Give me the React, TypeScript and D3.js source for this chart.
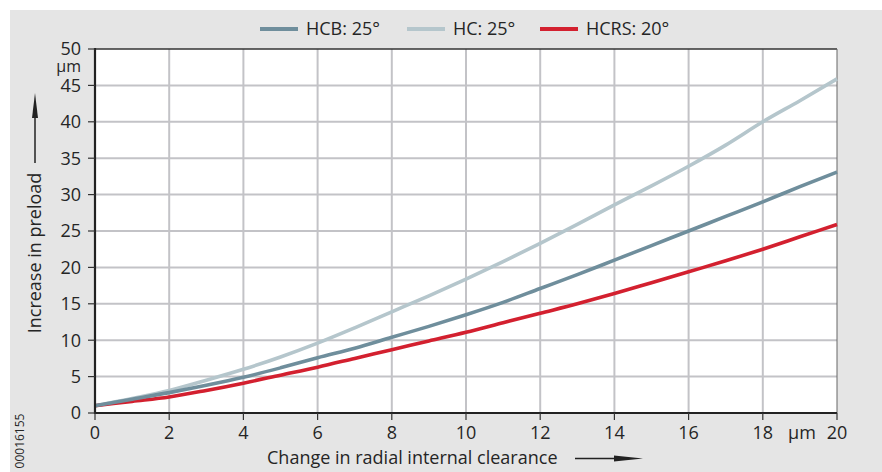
import React from "react";
import * as d3 from "d3";

// Radial internal clearance change (µm)
const clearance = [0, 1, 2, 3, 4, 5, 6, 7, 8, 9, 10, 11, 12, 13, 14, 15, 16, 17, 18, 19, 20];
// Preload increase (µm) per bearing type
const hcb25 = [1.0, 1.9, 2.8, 3.8, 4.9, 6.2, 7.6, 8.9, 10.4, 11.9, 13.5, 15.2, 17.1, 19.0, 21.0, 23.0, 25.0, 27.0, 29.0, 31.1, 33.1];
const hc25 = [1.0, 2.0, 3.1, 4.5, 6.0, 7.7, 9.6, 11.7, 13.9, 16.1, 18.4, 20.8, 23.3, 25.9, 28.6, 31.2, 33.9, 36.8, 40.0, 42.9, 45.9];
const hcrs20 = [1.0, 1.6, 2.2, 3.1, 4.1, 5.2, 6.3, 7.5, 8.7, 9.9, 11.1, 12.4, 13.7, 15.0, 16.4, 17.9, 19.4, 20.9, 22.5, 24.2, 25.9];

const seriesNames = ["HCB: 25°", "HC: 25°", "HCRS: 20°"];
const xTicks = [0, 2, 4, 6, 8, 10, 12, 14, 16, 18, 20];
const yTicks = [0, 5, 10, 15, 20, 25, 30, 35, 40, 45, 50];

const colors = ["#6f8e9c", "#b5c6cc", "#d3202f"];
const FONT = "'Open Sans', 'Noto Sans', sans-serif";
const TEXT = "#252525";

export default function App() {
  const W = 882;
  const H = 472;
  const left = 95, right = 837, top = 49, bottom = 413;
  const x = d3.scaleLinear().domain([0, 20]).range([left, right]);
  const y = d3.scaleLinear().domain([0, 50]).range([bottom, top]);

  const series = [hcb25, hc25, hcrs20];
  const line = d3
    .line<number>()
    .x((_, i) => x(clearance[i]))
    .y((d) => y(d))
    .curve(d3.curveMonotoneX);

  // draw order: HC underneath, then HCRS, then HCB on top
  const drawOrder = [1, 2, 0];

  const legendX = [260, 407, 540];

  return (
    <svg width={W} height={H} style={{ position: "absolute", left: 0, top: 0 }}>
      <rect x={10} y={10} width={W - 10} height={H - 10} fill="#e5e5e5" />
      <rect x={left} y={top} width={right - left} height={bottom - top} fill="#ffffff" />

      {/* grid */}
      {xTicks.slice(1, -1).map((t) => (
        <line key={"gx" + t} x1={x(t)} x2={x(t)} y1={top} y2={bottom} stroke="#c3c3c7" strokeWidth={2} />
      ))}
      {yTicks.slice(1, -1).map((t) => (
        <line key={"gy" + t} x1={left} x2={right} y1={y(t)} y2={y(t)} stroke="#c3c3c7" strokeWidth={2} />
      ))}

      {/* frame */}
      <line x1={left} x2={right} y1={top} y2={top} stroke="#333" strokeWidth={1.5} />
      <line x1={right} x2={right} y1={top} y2={bottom} stroke="#666" strokeWidth={1} />

      {/* curves */}
      {drawOrder.map((k) => (
        <path key={"s" + k} d={line(series[k]) || ""} fill="none" stroke={colors[k]} strokeWidth={3.6} strokeLinejoin="round" />
      ))}

      {/* axes */}
      <line x1={left} x2={right} y1={bottom} y2={bottom} stroke="#222" strokeWidth={2.2} />
      <line x1={left} x2={left} y1={top - 1} y2={bottom + 1} stroke="#222" strokeWidth={2.2} />

      {yTicks.map((t) => (
        <g key={"yt" + t}>
          <line x1={left - 7} x2={left} y1={y(t)} y2={y(t)} stroke="#333" strokeWidth={1.2} />
          <text x={81} y={y(t)} dy="0.36em" textAnchor="end" fontFamily={FONT} fontSize={18} fill={TEXT}>
            {t}
          </text>
        </g>
      ))}
      <text x={81} y={72} textAnchor="end" fontFamily={FONT} fontSize={16} fill={TEXT}>µm</text>

      {xTicks.map((t) => (
        <g key={"xt" + t}>
          <line x1={x(t)} x2={x(t)} y1={bottom} y2={bottom + 7} stroke="#333" strokeWidth={1.2} />
          <text x={x(t)} y={439} textAnchor="middle" fontFamily={FONT} fontSize={18} fill={TEXT}>
            {t}
          </text>
        </g>
      ))}
      <text x={802} y={439} textAnchor="middle" fontFamily={FONT} fontSize={18} fill={TEXT}>µm</text>

      {/* x axis title with arrow */}
      <text x={267} y={464} fontFamily={FONT} fontSize={18} fill={TEXT}>Change in radial internal clearance</text>
      <line x1={575} x2={620} y1={458.5} y2={458.5} stroke="#222" strokeWidth={1.5} />
      <path d="M643,458.5 L614,455.5 L614,461.5 Z" fill="#222" />

      {/* y axis title with arrow */}
      <text transform="translate(41,253) rotate(-90)" textAnchor="middle" fontFamily={FONT} fontSize={18} fill={TEXT}>
        Increase in preload
      </text>
      <line x1={35} x2={35} y1={163} y2={112} stroke="#222" strokeWidth={1.5} />
      <path d="M35,93 L32,118 L38,118 Z" fill="#222" />

      {/* drawing number */}
      <text transform="translate(24,441) rotate(-90)" textAnchor="middle" fontFamily={FONT} fontSize={12} fill={TEXT}>
        00016155
      </text>

      {/* legend */}
      {seriesNames.map((name, i) => (
        <g key={"lg" + i}>
          <line x1={legendX[i]} x2={legendX[i] + 38} y1={29} y2={29} stroke={colors[i]} strokeWidth={4} />
          <text x={legendX[i] + 46} y={29} dy="0.36em" fontFamily={FONT} fontSize={18} fill={TEXT}>
            {name}
          </text>
        </g>
      ))}
    </svg>
  );
}
